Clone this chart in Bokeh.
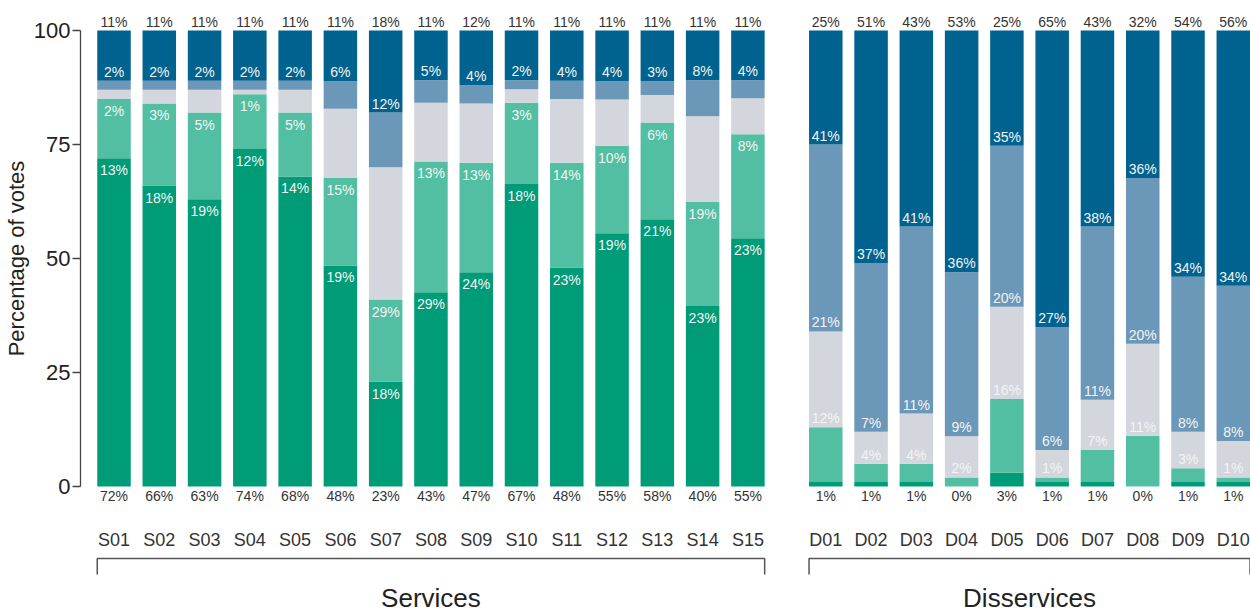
from bokeh.plotting import figure
from bokeh.layouts import column
from bokeh.models import Range1d, FixedTicker, ColumnDataSource
from bokeh.embed import file_html
from bokeh.resources import INLINE
from bokeh.core.properties import value

# ---------------- data ----------------
services = ["S01", "S02", "S03", "S04", "S05", "S06", "S07", "S08",
            "S09", "S10", "S11", "S12", "S13", "S14", "S15"]
disservices = ["D01", "D02", "D03", "D04", "D05", "D06", "D07", "D08", "D09", "D10"]

s_dark_green = [72, 66, 63, 74, 68, 48, 23, 43, 47, 67, 48, 55, 58, 40, 55]
s_light_green = [13, 18, 19, 12, 14, 19, 18, 29, 24, 18, 23, 19, 21, 23, 23]
s_grey = [2, 3, 5, 1, 5, 15, 29, 13, 13, 3, 14, 10, 6, 19, 8]
s_mid_blue = [2, 2, 2, 2, 2, 6, 12, 5, 4, 2, 4, 4, 3, 8, 4]
s_dark_blue = [11, 11, 11, 11, 11, 11, 18, 11, 12, 11, 11, 11, 11, 11, 11]

d_dark_green = [1, 1, 1, 0, 3, 1, 1, 0, 1, 1]
d_light_green = [12, 4, 4, 2, 16, 1, 7, 11, 3, 1]
d_grey = [21, 7, 11, 9, 20, 6, 11, 20, 8, 8]
d_mid_blue = [41, 37, 41, 36, 35, 27, 38, 36, 34, 34]
d_dark_blue = [25, 51, 43, 53, 25, 65, 43, 32, 54, 56]

group_names = ["Services", "Disservices"]
y_ticks = [0, 25, 50, 75, 100]
y_title = "Percentage of votes"

# ---------------- style ----------------
COLORS = ["#009B77", "#52BFA2", "#D3D6DC", "#6B98B9", "#00628F"]
FONT = value("Liberation Sans")
IN_COLOR = "#F4F4F4"
OUT_COLOR = "#333333"
BAR_W = 0.74
GROUP_GAP = 1.72

s_x = [float(i) for i in range(len(services))]
d_start = s_x[-1] + GROUP_GAP
d_x = [d_start + j for j in range(len(disservices))]

xr = Range1d(-0.74, 25.1)


def base_fig(height, y0, y1):
    f = figure(width=1250, height=height, output_backend="svg", toolbar_location=None,
               x_range=xr, y_range=Range1d(y0, y1), x_axis_location=None,
               min_border_left=80, min_border_right=0, min_border_top=0,
               min_border_bottom=0)
    f.outline_line_color = None
    f.grid.visible = False
    f.background_fill_color = "white"
    f.border_fill_color = "white"
    return f


p = base_fig(516, -6.58, 106.58)
q = base_fig(97, -27.85, -6.58)
q.yaxis.visible = False


def stack(xs, layers):
    n = len(xs)
    totals = [sum(l[i] for l in layers) for i in range(n)]
    bottoms = [0.0] * n
    edges = []
    for k, layer in enumerate(layers):
        tops = [bottoms[i] + layer[i] * 100.0 / totals[i] for i in range(n)]
        src = ColumnDataSource(dict(x=xs, bottom=bottoms, top=tops))
        p.vbar(x="x", width=BAR_W, bottom="bottom", top="top", source=src,
               fill_color=COLORS[k], line_color=None)
        edges.append((list(bottoms), tops))
        bottoms = tops
    return edges


def pct(vals):
    return ["%d%%" % v for v in vals]


def label(xs, ys, vals, color, baseline, yoff):
    p.text(x=xs, y=ys, text=pct(vals), text_font=FONT, text_font_size="14px",
           text_align="center", text_baseline=baseline, text_color=color,
           y_offset=yoff)


s_layers = [s_dark_green, s_light_green, s_grey, s_mid_blue, s_dark_blue]
d_layers = [d_dark_green, d_light_green, d_grey, d_mid_blue, d_dark_blue]
s_edges = stack(s_x, s_layers)
d_edges = stack(d_x, d_layers)

# outer labels
label(s_x, s_edges[0][0], s_dark_green, OUT_COLOR, "top", 2)
label(d_x, d_edges[0][0], d_dark_green, OUT_COLOR, "top", 2)
label(s_x, s_edges[4][1], s_dark_blue, OUT_COLOR, "bottom", -1)
label(d_x, d_edges[4][1], d_dark_blue, OUT_COLOR, "bottom", -1)

# services: green / grey labels hang below the segment bottom, mid blue above top
label(s_x, s_edges[1][0], s_light_green, IN_COLOR, "top", 4)
label(s_x, s_edges[2][0], s_grey, IN_COLOR, "top", 4)
label(s_x, s_edges[3][1], s_mid_blue, IN_COLOR, "bottom", -1)

# disservices: labels sit above the segment top
label(d_x, d_edges[1][1], d_light_green, IN_COLOR, "bottom", -1)
label(d_x, d_edges[2][1], d_grey, IN_COLOR, "bottom", -1)
label(d_x, d_edges[3][1], d_mid_blue, IN_COLOR, "bottom", -1)

# category labels
cat_y = -11.84
q.text(x=s_x + d_x, y=[cat_y] * (len(s_x) + len(d_x)), text=services + disservices,
       text_font=FONT, text_font_size="18px", text_align="center",
       text_baseline="middle", text_color=OUT_COLOR)

# brackets and group titles
br_y = -15.79
br_tip = -19.3
for xs, name in zip([s_x, d_x], group_names):
    x0 = xs[0] - BAR_W / 2
    x1 = xs[-1] + BAR_W / 2
    q.line(x=[x0, x0, x1, x1], y=[br_tip, br_y, br_y, br_tip],
           line_color="#555555", line_width=1.5)
    q.text(x=[(xs[0] + xs[-1]) / 2], y=[-24.56], text=[name], text_font=FONT,
           text_font_size="26px", text_align="center", text_baseline="middle",
           text_color="#222222")

# y axis
ax = p.yaxis[0]
ax.ticker = FixedTicker(ticks=y_ticks)
ax.bounds = (0, 100)
ax.axis_label = y_title
ax.axis_label_text_font = "Liberation Sans"
ax.axis_label_text_font_style = "normal"
ax.axis_label_text_font_size = "22px"
ax.axis_label_text_color = "#222222"
ax.axis_label_standoff = 2
ax.major_label_text_font = "Liberation Sans"
ax.major_label_text_font_size = "22px"
ax.major_label_text_color = "#222222"
ax.major_label_standoff = 2
ax.major_tick_out = 8
ax.major_tick_in = 0
ax.minor_tick_out = 0
ax.minor_tick_in = 0
ax.axis_line_color = "#444444"
ax.major_tick_line_color = "#444444"
ax.axis_line_width = 1.3
ax.major_tick_line_width = 1.3

layout = column(p, q, spacing=0)
open("out.html", "w").write(file_html(layout, INLINE))
